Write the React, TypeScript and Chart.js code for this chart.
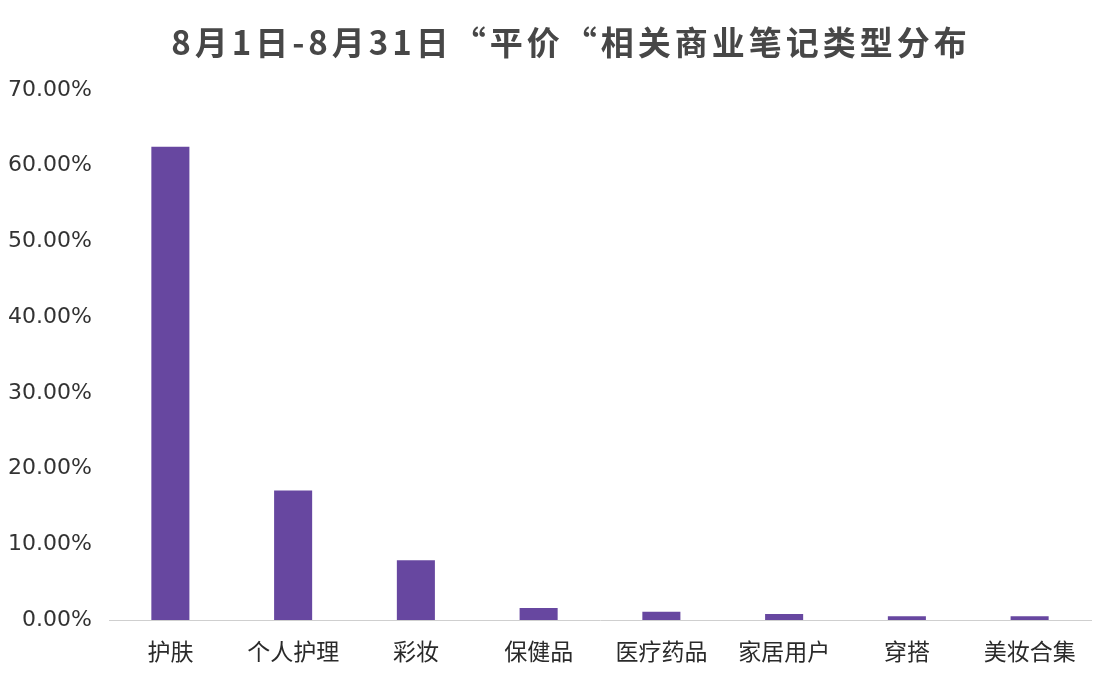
import React, { useEffect, useRef } from "react";
import { Chart, registerables } from "chart.js";

Chart.register(...registerables);

const titleText = "8月1日-8月31日“平价“相关商业笔记类型分布";
const categories = ["护肤", "个人护理", "彩妆", "保健品", "医疗药品", "家居用户", "穿搭", "美妆合集"];
const shares = [62.5, 17.1, 7.9, 1.6, 1.1, 0.8, 0.5, 0.5];
const yMax = 70;
const yStep = 10;

const titlePlugin = {
  id: "customTitle",
  afterDraw(chart: any) {
    const ctx = chart.ctx;
    ctx.save();
    ctx.font = "bold 33px 'Noto Sans CJK SC', sans-serif";
    (ctx as any).letterSpacing = "4px";
    ctx.fillStyle = "#474747";
    ctx.textAlign = "left";
    ctx.textBaseline = "middle";
    const w = ctx.measureText(titleText).width;
    ctx.fillText(titleText, 571 - w / 2, 42);
    ctx.restore();
  },
};

export default function App() {
  const ref = useRef<HTMLCanvasElement | null>(null);
  useEffect(() => {
    if (!ref.current) return;
    const chart = new Chart(ref.current, {
      type: "bar",
      data: {
        labels: categories,
        datasets: [
          {
            data: shares,
            backgroundColor: "#6747A0",
            borderWidth: 0,
            barPercentage: 0.62,
            categoryPercentage: 0.5,
          },
        ],
      },
      options: {
        animation: false,
        responsive: false,
        maintainAspectRatio: false,
        layout: { padding: { top: 90, right: 5, bottom: 0, left: 0 } },
        plugins: {
          legend: { display: false },
          title: { display: false },
          tooltip: { enabled: false },
        },
        scales: {
          x: {
            grid: { display: false, drawTicks: false },
            border: { display: true, color: "#cfcfcf", width: 1 },
            ticks: {
              padding: 17,
              color: "#2a2a2a",
              font: { family: "'Noto Sans CJK SC', sans-serif", size: 23 },
              maxRotation: 0,
            },
            afterFit(scale: any) {
              scale.height = 64;
            },
          },
          y: {
            min: 0,
            max: yMax,
            grid: { display: false, drawTicks: false },
            border: { display: false },
            ticks: {
              stepSize: yStep,
              padding: 17,
              color: "#333333",
              font: { family: "'DejaVu Sans', sans-serif", size: 22 },
              callback: (v: any) => Number(v).toFixed(2) + "%",
            },
            afterFit(scale: any) {
              scale.width = 109;
            },
          },
        },
      },
      plugins: [titlePlugin],
    });
    return () => chart.destroy();
  }, []);
  return (
    <div style={{ position: "absolute", left: 0, top: 0, width: 1096, height: 684, background: "#fff" }}>
      <canvas ref={ref} width={1096} height={684} style={{ display: "block" }} />
    </div>
  );
}
